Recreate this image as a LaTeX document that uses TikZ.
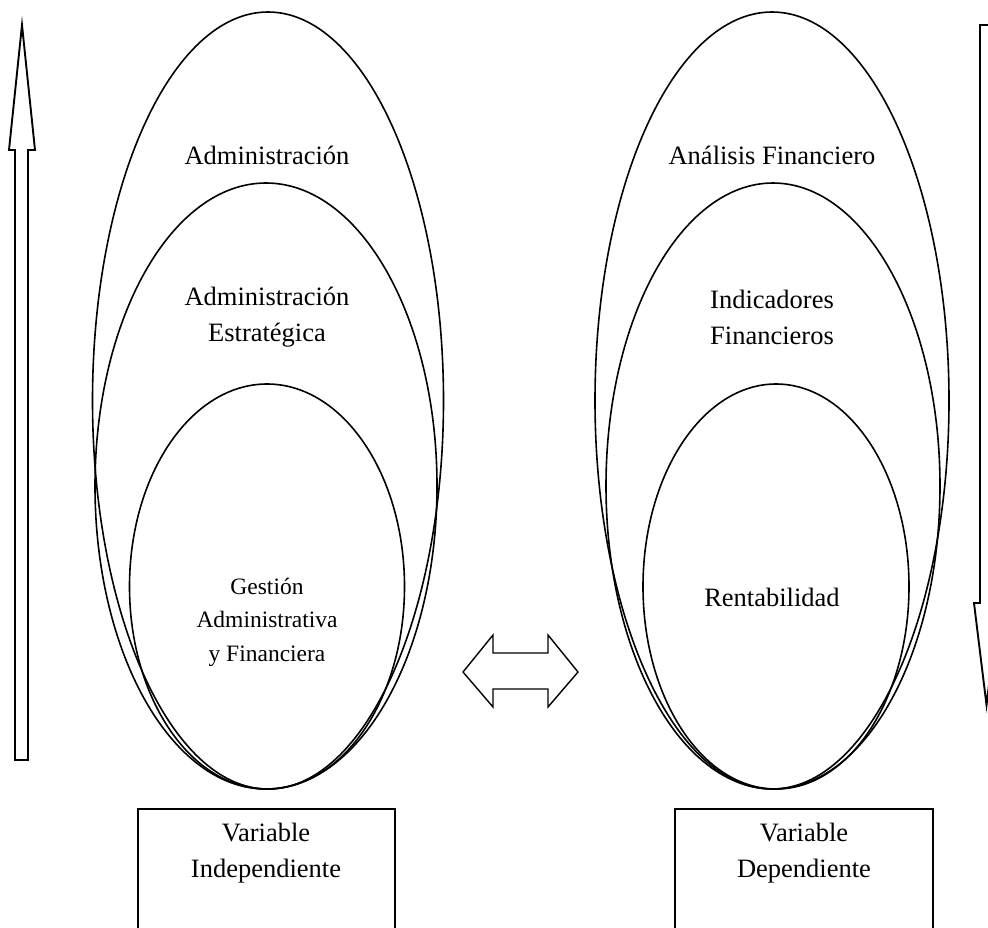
\documentclass[tikz,border=0pt]{standalone}
\usepackage{fontspec}
\setmainfont{Liberation Serif}
\usetikzlibrary{shapes.geometric}
\begin{document}
\begin{tikzpicture}[x=1pt,y=-1pt,
  oval/.style={draw,ellipse,line width=1.6pt,inner sep=0pt},
  lbl/.style={align=center,font=\fontsize{26.5}{36}\selectfont},
  slbl/.style={align=center,font=\fontsize{23.5}{33.5}\selectfont},
  outline/.style={draw,line width=1.9pt,line join=miter}]
\useasboundingbox (0,0) rectangle (988,927);
\clip (0,0) rectangle (988,927);
% left ellipses
\node[oval,minimum width=351pt,minimum height=777pt] (L1) at (268,400.5) {};
\node[oval,minimum width=342pt,minimum height=606pt] (L2) at (266,486) {};
\node[oval,minimum width=275pt,minimum height=405pt] (L3) at (267,586.5) {};
% right ellipses
\node[oval,minimum width=354pt,minimum height=777pt] (R1) at (772,400.5) {};
\node[oval,minimum width=334pt,minimum height=606pt] (R2) at (773,486) {};
\node[oval,minimum width=266pt,minimum height=405pt] (R3) at (776,586.5) {};
% labels
\node[lbl] (t1) at (267,155) {Administración};
\node[lbl] (t2) at (267,317) {Administración\\Estratégica};
\node[slbl] (t3) at (267,622) {Gestión\\Administrativa\\y Financiera};
\node[lbl] (t4) at (772,155) {Análisis Financiero};
\node[lbl] (t5) at (772,317) {Indicadores\\Financieros};
\node[lbl] (t6) at (772,597) {Rentabilidad};
% boxes
\draw[line width=1.6pt] (138,950) |- (395,809) -- (395,950);
\draw[line width=1.6pt] (675,950) |- (933,809) -- (933,950);
\node[lbl] (b1) at (266,853) {Variable\\Independiente};
\node[lbl] (b2) at (804,853) {Variable\\Dependiente};
% left up arrow
\draw[outline] (15,760) -- (15,150) -- (9,150) -- (22,25) -- (35,150) -- (28,150) -- (28,760) -- cycle;
% right down arrow
\draw[outline] (980,25) -- (980,603) -- (974,603) -- (986.5,705) -- (999,603) -- (993,603) -- (993,25) -- cycle;
% double arrow
\draw[outline,line width=1.4pt] (463,672) -- (493,635) -- (493,653) -- (548,653) -- (548,635) -- (578,672) -- (548,707) -- (548,689) -- (493,689) -- (493,707) -- cycle;
\end{tikzpicture}
\end{document}
